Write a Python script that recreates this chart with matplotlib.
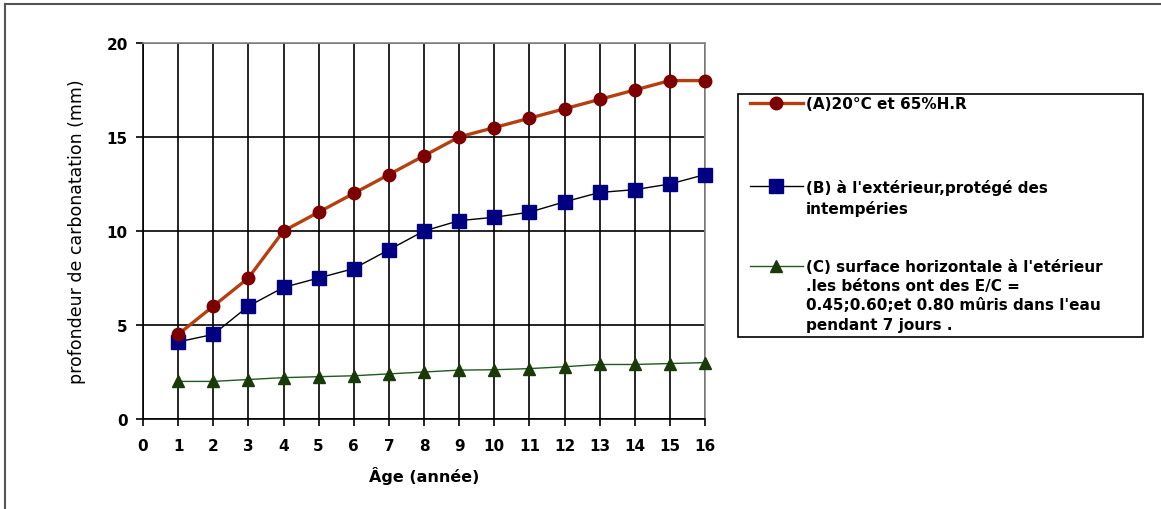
import matplotlib
matplotlib.use("Agg")
import matplotlib.pyplot as plt
from matplotlib.lines import Line2D
from matplotlib.patches import Rectangle

ages = list(range(1, 17))
serie_a = [4.5, 6, 7.5, 10, 11, 12, 13, 14, 15, 15.5, 16, 16.5, 17, 17.5, 18, 18]
serie_b = [4.1, 4.5, 6, 7, 7.5, 8, 9, 10, 10.55, 10.73, 11.0, 11.55, 12.05, 12.2, 12.5, 13.0]
serie_c = [2.0, 2.0, 2.1, 2.2, 2.25, 2.3, 2.4, 2.5, 2.6, 2.62, 2.68, 2.78, 2.9, 2.9, 2.95, 3.0]
x_ticks = list(range(0, 17))
y_ticks = [0, 5, 10, 15, 20]
labels = ["(A)20\u00b0C et 65%H.R",
          "(B) \u00e0 l'ext\u00e9rieur,prot\u00e9g\u00e9 des\nintemp\u00e9ries",
          "(C) surface horizontale \u00e0 l'et\u00e9rieur\n.les b\u00e9tons ont des E/C =\n0.45;0.60;et 0.80 m\u00fbris dans l'eau\npendant 7 jours ."]

plt.rcParams['font.family'] = ['DejaVu Sans']

W, H = 1161, 510
fig = plt.figure(figsize=(W / 100, H / 100), dpi=100)

def fx(px):
    return px / W

def fy(py):
    return 1 - py / H

ax = fig.add_axes([fx(143), fy(420), fx(705) - fx(143), fy(44) - fy(420)])
ax.set_xlim(0, 16)
ax.set_ylim(0, 20)
ax.set_xticks(x_ticks)
ax.set_yticks(y_ticks)
ax.tick_params(direction='out', length=5, width=1.2, color='black', labelsize=11)
ax.tick_params(axis='x', pad=9)
ax.tick_params(axis='y', pad=6)
for lab in ax.get_xticklabels() + ax.get_yticklabels():
    lab.set_fontweight('bold')
ax.grid(True, color='black', linewidth=1.2)
ax.set_axisbelow(True)
for s in ['left', 'bottom']:
    ax.spines[s].set_color('black')
    ax.spines[s].set_linewidth(1.2)
for s in ['top', 'right']:
    ax.spines[s].set_color('#8a8a8a')
    ax.spines[s].set_linewidth(1.2)

style_a = dict(color='#b5400f', linewidth=2.4, marker='o', markersize=9,
               markerfacecolor='#7d0000', markeredgecolor='#7d0000')
style_b = dict(color='black', linewidth=1.0, marker='s', markersize=10.5,
               markerfacecolor='#000080', markeredgecolor='#000080')
style_c = dict(color='#1f5a1f', linewidth=1.0, marker='^', markersize=9,
               markerfacecolor='#1a3a0a', markeredgecolor='#1a3a0a')

ax.plot(ages, serie_a, clip_on=False, zorder=4, **style_a)
ax.plot(ages, serie_b, clip_on=False, zorder=3, **style_b)
ax.plot(ages, serie_c, clip_on=False, zorder=3, **style_c)

ax.set_xlabel("\u00c2ge (ann\u00e9e)", fontsize=11.5, fontweight='bold', labelpad=9)
ax.set_ylabel("profondeur de carbonatation (mm)", fontsize=12.5, labelpad=15)

# manual legend
fig.add_artist(Rectangle((fx(738), fy(338)), fx(1143) - fx(738), fy(95) - fy(338),
                         transform=fig.transFigure, fill=False, edgecolor='black', linewidth=1.2))
entry_y = [104, 187, 267]
for style, lab, py in zip([style_a, style_b, style_c], labels, entry_y):
    st = dict(style)
    ms = st.pop('marker')
    fig.add_artist(Line2D([fx(750), fx(803)], [fy(py), fy(py)], transform=fig.transFigure,
                          color=st['color'], linewidth=st['linewidth']))
    fig.add_artist(Line2D([fx(776)], [fy(py)], transform=fig.transFigure, linestyle='none',
                          marker=ms, markersize=st['markersize'],
                          markerfacecolor=st['markerfacecolor'], markeredgecolor=st['markeredgecolor']))
    fig.text(fx(806), fy(py - 7), lab, ha='left', va='top', fontsize=11,
             fontweight='bold', linespacing=1.35)

# outer frame (top and left edges)
fig.add_artist(Line2D([fx(5), fx(1161)], [fy(5), fy(5)], transform=fig.transFigure,
                      color='#555555', linewidth=1.5))
fig.add_artist(Line2D([fx(5), fx(5)], [fy(5), fy(510)], transform=fig.transFigure,
                      color='#555555', linewidth=1.5))

fig.savefig("out.png", dpi=100)
